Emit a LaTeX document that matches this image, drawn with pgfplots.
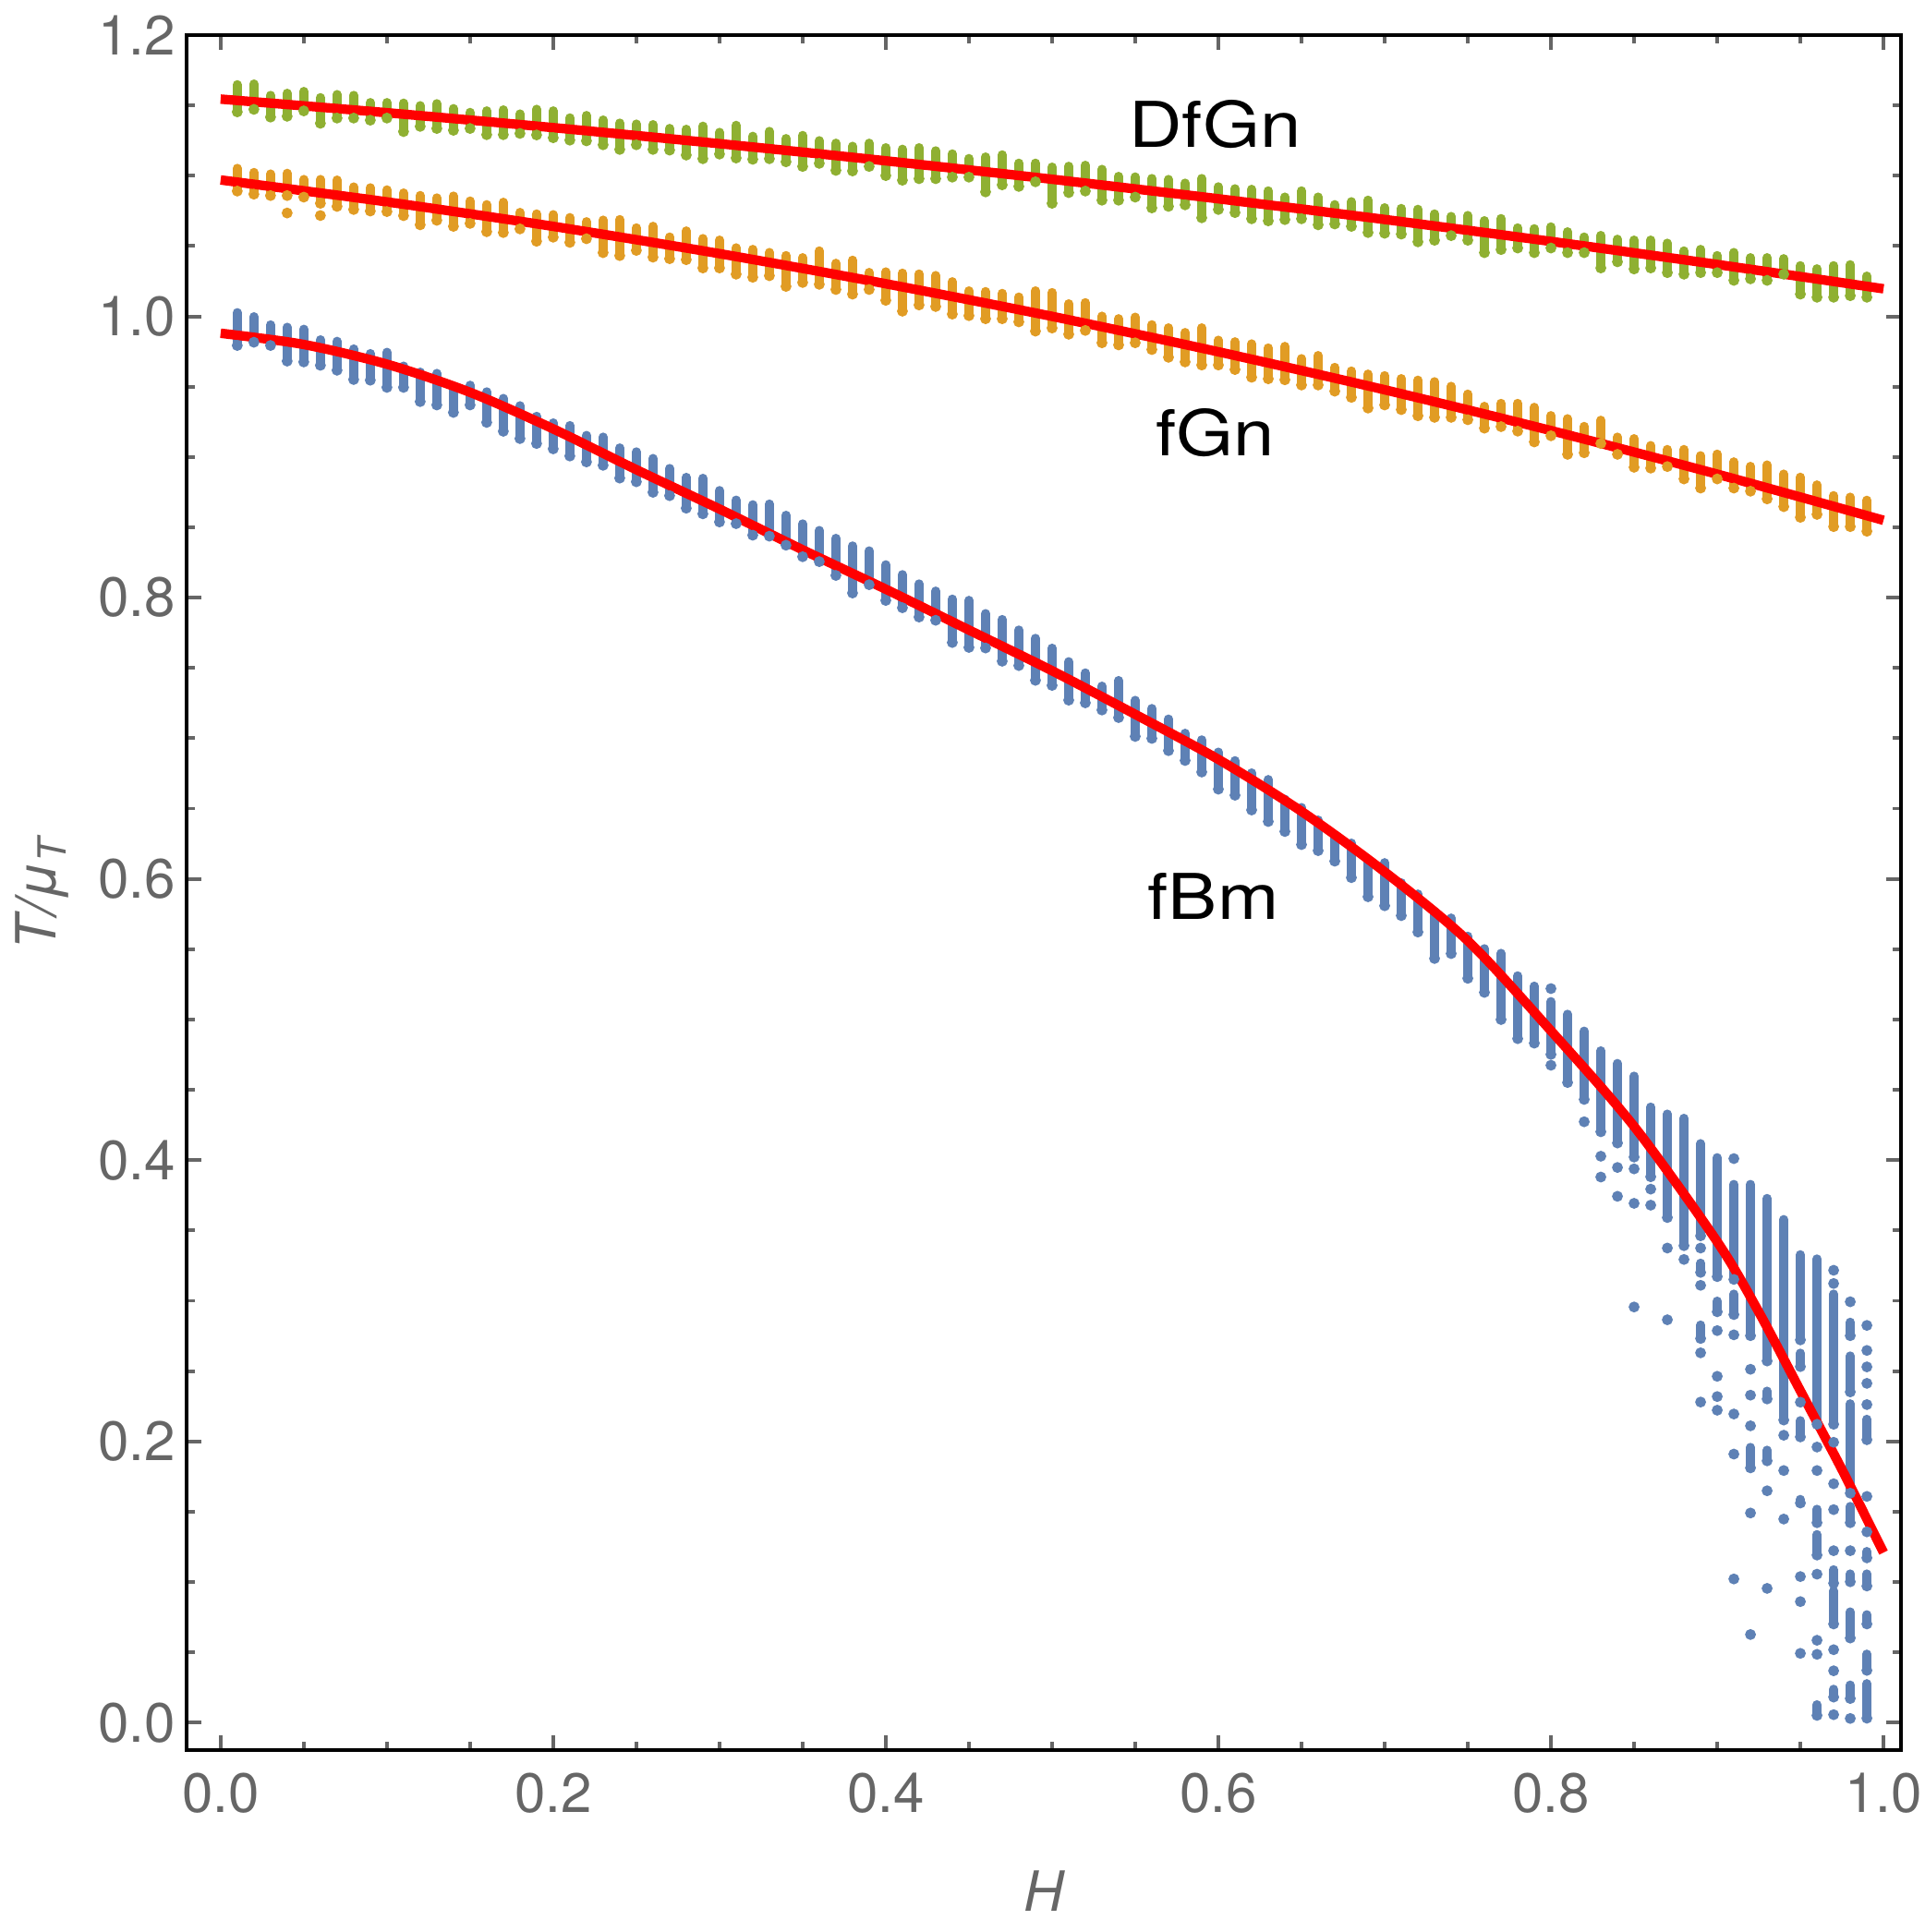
\documentclass[border=0pt]{standalone}
\usepackage{pgfplots}
\pgfplotsset{compat=1.18}
\usepackage{pgfplotstable}
\usepackage{graphicx}
\usepackage{fontspec}
\setmainfont{TeX Gyre Heros}

\definecolor{fbm}{rgb}{0.368417,0.506779,0.709798}
\definecolor{fgn}{rgb}{0.880722,0.611041,0.142051}
\definecolor{dfgn}{rgb}{0.560181,0.691569,0.194885}
\definecolor{tickgray}{gray}{0.4}

\pgfplotsset{
  colbars/.style={only marks, mark=*, mark size=1.0pt,
    mark options={draw=none, fill=#1}, color=#1, forget plot,
    error bars/.cd, y dir=plus, y explicit, error mark=none,
    error bar style={line width=2.0pt, line cap=round, draw=#1}},
  coldots/.style={only marks, mark=*, mark size=1.0pt,
    mark options={draw=none, fill=#1}, color=#1, forget plot},
}

% fBm: column extents (x, lower edge, upper edge)
\pgfplotstableread{
x lo hi
0.01 0.9761 1.0059
0.02 0.9784 1.0030
0.03 0.9761 0.9972
0.04 0.9650 0.9955
0.05 0.9644 0.9941
0.06 0.9620 0.9866
0.07 0.9585 0.9855
0.08 0.9519 0.9801
0.09 0.9514 0.9768
0.10 0.9463 0.9777
0.11 0.9463 0.9679
0.12 0.9362 0.9636
0.13 0.9338 0.9627
0.14 0.9285 0.9514
0.15 0.9338 0.9543
0.16 0.9214 0.9496
0.17 0.9151 0.9449
0.18 0.9099 0.9397
0.19 0.9064 0.9322
0.20 0.9026 0.9275
0.21 0.8975 0.9256
0.22 0.8933 0.9186
0.23 0.8909 0.9174
0.24 0.8818 0.9097
0.25 0.8792 0.9069
0.26 0.8717 0.9022
0.27 0.8693 0.8951
0.28 0.8604 0.8888
0.29 0.8564 0.8881
0.30 0.8506 0.8794
0.31 0.8494 0.8726
0.32 0.8412 0.8693
0.33 0.8405 0.8698
0.34 0.8341 0.8618
0.35 0.8259 0.8557
0.36 0.8224 0.8510
0.37 0.8126 0.8454
0.38 0.8001 0.8400
0.39 0.8060 0.8365
0.40 0.7948 0.8266
0.41 0.7896 0.8196
0.42 0.7830 0.8130
0.43 0.7807 0.8079
0.44 0.7649 0.8022
0.45 0.7614 0.8013
0.46 0.7610 0.7919
0.47 0.7516 0.7877
0.48 0.7485 0.7802
0.49 0.7380 0.7743
0.50 0.7344 0.7673
0.51 0.7239 0.7577
0.52 0.7220 0.7497
0.53 0.7169 0.7403
0.54 0.7115 0.7443
0.55 0.6981 0.7302
0.56 0.6967 0.7244
0.57 0.6880 0.7169
0.58 0.6810 0.7068
0.59 0.6728 0.7021
0.60 0.6606 0.6934
0.61 0.6563 0.6873
0.62 0.6458 0.6786
0.63 0.6376 0.6739
0.64 0.6305 0.6599
0.65 0.6212 0.6540
0.66 0.6169 0.6451
0.67 0.6094 0.6329
0.68 0.5977 0.6287
0.69 0.5841 0.6169
0.70 0.5777 0.6148
0.71 0.5707 0.6005
0.72 0.5590 0.5925
0.73 0.5402 0.5801
0.74 0.5437 0.5754
0.75 0.5261 0.5625
0.76 0.5161 0.5536
0.77 0.4968 0.5503
0.78 0.4832 0.5343
0.79 0.4800 0.5270
0.80 0.4720 0.5160
0.81 0.4520 0.5070
0.82 0.4400 0.4950
0.83 0.4170 0.4810
0.84 0.4090 0.4720
0.85 0.3990 0.4630
0.86 0.3850 0.4410
0.87 0.3560 0.4360
0.88 0.3360 0.4330
0.89 0.3430 0.4150
0.90 0.3140 0.4050
0.91 0.3120 0.3860
0.92 0.2720 0.3860
0.93 0.2540 0.3760
0.94 0.2120 0.3610
0.95 0.2690 0.3360
0.96 0.2090 0.3330
0.97 0.2090 0.3080
0.98 0.2320 0.2640
0.98 0.1600 0.2300
0.89 0.317 0.330
0.89 0.270 0.286
0.90 0.289 0.303
0.91 0.287 0.308
0.92 0.178 0.199
0.93 0.227 0.239
0.93 0.183 0.197
0.95 0.250 0.266
0.95 0.200 0.218
0.95 0.153 0.162
0.96 0.139 0.155
0.96 0.116 0.137
0.96 0.002 0.016
0.97 0.096 0.112
0.97 0.067 0.097
0.97 0.015 0.027
0.98 0.272 0.288
0.98 0.139 0.157
0.98 0.097 0.109
0.98 0.057 0.082
0.98 0.014 0.030
0.99 0.198 0.219
0.99 0.114 0.125
0.99 0.094 0.109
0.99 0.067 0.080
0.99 0.034 0.052
0.99 0.000 0.031
}\fbmbars

% fBm: isolated points (x, y)
\pgfplotstableread{
x y
0.80 0.522
0.80 0.4675
0.82 0.4273
0.83 0.4028
0.83 0.388
0.84 0.3948
0.84 0.3743
0.85 0.3938
0.85 0.3693
0.85 0.2956
0.86 0.3794
0.86 0.368
0.87 0.3375
0.87 0.2865
0.88 0.3294
0.89 0.3375
0.89 0.311
0.89 0.263
0.89 0.228
0.90 0.2788
0.90 0.2463
0.90 0.2319
0.90 0.2222
0.91 0.4011
0.91 0.2758
0.91 0.2195
0.91 0.191
0.91 0.1022
0.92 0.2513
0.92 0.2329
0.92 0.2111
0.92 0.1491
0.92 0.0627
0.93 0.1649
0.93 0.0955
0.94 0.2044
0.94 0.1793
0.94 0.1448
0.95 0.2279
0.95 0.1039
0.95 0.0861
0.95 0.0493
0.96 0.196
0.96 0.1793
0.96 0.1056
0.96 0.0586
0.96 0.0486
0.97 0.3217
0.97 0.3123
0.97 0.1994
0.97 0.1699
0.97 0.1515
0.97 0.1223
0.97 0.0519
0.97 0.0369
0.97 0.0057
0.98 0.2993
0.98 0.1223
0.98 0.003
0.99 0.2825
0.99 0.2647
0.99 0.253
0.99 0.2413
0.99 0.2262
0.99 0.1609
0.99 0.1357
}\fbmdots

% fGn: column extents
\pgfplotstableread{
x lo hi
0.01 1.0859 1.1085
0.02 1.0837 1.1056
0.03 1.0827 1.1045
0.04 1.0827 1.1050
0.05 1.0816 1.1006
0.06 1.0772 1.1006
0.07 1.0750 1.1002
0.08 1.0728 1.0953
0.09 1.0717 1.0947
0.10 1.0713 1.0932
0.11 1.0684 1.0910
0.12 1.0619 1.0892
0.13 1.0651 1.0875
0.14 1.0608 1.0888
0.15 1.0629 1.0853
0.16 1.0570 1.0827
0.17 1.0564 1.0844
0.18 1.0590 1.0772
0.19 1.0502 1.0761
0.20 1.0531 1.0756
0.21 1.0494 1.0735
0.22 1.0520 1.0706
0.23 1.0421 1.0717
0.24 1.0400 1.0721
0.25 1.0437 1.0662
0.26 1.0389 1.0673
0.27 1.0378 1.0597
0.28 1.0371 1.0640
0.29 1.0312 1.0586
0.30 1.0312 1.0575
0.31 1.0268 1.0520
0.32 1.0246 1.0509
0.33 1.0257 1.0487
0.34 1.0181 1.0465
0.35 1.0209 1.0450
0.36 1.0196 1.0498
0.37 1.0159 1.0410
0.38 1.0126 1.0432
0.39 1.0159 1.0345
0.40 1.0082 1.0349
0.41 1.0005 1.0340
0.42 1.0049 1.0334
0.43 1.0038 1.0323
0.44 0.9984 1.0279
0.45 0.9973 1.0214
0.46 0.9951 1.0209
0.47 0.9951 1.0196
0.48 0.9929 1.0170
0.49 0.9863 1.0214
0.50 0.9885 1.0202
0.51 0.9841 1.0122
0.52 0.9868 1.0130
0.53 0.9780 1.0034
0.54 0.9765 1.0016
0.55 0.9780 1.0027
0.56 0.9732 0.9973
0.57 0.9677 0.9951
0.58 0.9644 0.9918
0.59 0.9622 0.9951
0.60 0.9622 0.9863
0.61 0.9590 0.9852
0.62 0.9535 0.9837
0.63 0.9524 0.9808
0.64 0.9517 0.9819
0.65 0.9480 0.9732
0.66 0.9480 0.9754
0.67 0.9436 0.9670
0.68 0.9392 0.9644
0.69 0.9316 0.9622
0.70 0.9338 0.9611
0.71 0.9305 0.9590
0.72 0.9261 0.9579
0.73 0.9250 0.9568
0.74 0.9250 0.9535
0.75 0.9233 0.9480
0.76 0.9173 0.9393
0.77 0.9184 0.9414
0.78 0.9152 0.9414
0.79 0.9075 0.9386
0.80 0.9119 0.9327
0.81 0.8987 0.9305
0.82 0.8998 0.9250
0.83 0.9064 0.9294
0.84 0.8987 0.9174
0.85 0.8895 0.9163
0.86 0.8889 0.9114
0.87 0.8900 0.9086
0.88 0.8812 0.9086
0.89 0.8747 0.9042
0.90 0.8812 0.9053
0.91 0.8747 0.8998
0.92 0.8725 0.8966
0.93 0.8670 0.8976
0.94 0.8615 0.8911
0.95 0.8539 0.8889
0.96 0.8560 0.8834
0.97 0.8473 0.8758
0.98 0.8473 0.8747
0.99 0.8440 0.8725
}\fgnbars

\pgfplotstableread{
x y
0.04 1.0735
0.06 1.0717
}\fgndots

% DfGn: column extents
\pgfplotstableread{
x lo hi
0.01 1.1422 1.1680
0.02 1.1440 1.1685
0.03 1.1385 1.1604
0.04 1.1391 1.1619
0.05 1.1429 1.1632
0.06 1.1341 1.1588
0.07 1.1378 1.1610
0.08 1.1378 1.1604
0.09 1.1363 1.1553
0.10 1.1378 1.1553
0.11 1.1282 1.1549
0.12 1.1319 1.1531
0.13 1.1304 1.1545
0.14 1.1291 1.1510
0.15 1.1304 1.1483
0.16 1.1260 1.1494
0.17 1.1260 1.1501
0.18 1.1269 1.1472
0.19 1.1258 1.1505
0.20 1.1238 1.1494
0.21 1.1221 1.1444
0.22 1.1216 1.1461
0.23 1.1188 1.1429
0.24 1.1155 1.1407
0.25 1.1188 1.1400
0.26 1.1155 1.1396
0.27 1.1150 1.1369
0.28 1.1115 1.1363
0.29 1.1089 1.1385
0.30 1.1122 1.1341
0.31 1.1094 1.1391
0.32 1.1085 1.1313
0.33 1.1089 1.1348
0.34 1.1067 1.1297
0.35 1.1034 1.1319
0.36 1.1056 1.1282
0.37 1.1006 1.1264
0.38 1.1002 1.1242
0.39 1.1034 1.1264
0.40 1.0969 1.1232
0.41 1.0936 1.1221
0.42 1.0947 1.1232
0.43 1.0947 1.1210
0.44 1.0958 1.1188
0.45 1.0958 1.1155
0.46 1.0853 1.1166
0.47 1.0903 1.1181
0.48 1.0892 1.1122
0.49 1.0925 1.1122
0.50 1.0772 1.1094
0.51 1.0848 1.1100
0.52 1.0859 1.1107
0.53 1.0794 1.1078
0.54 1.0794 1.1028
0.55 1.0816 1.1024
0.56 1.0739 1.1013
0.57 1.0750 1.1006
0.58 1.0761 1.0980
0.59 1.0669 1.1013
0.60 1.0728 1.0954
0.61 1.0706 1.0940
0.62 1.0662 1.0936
0.63 1.0647 1.0925
0.64 1.0656 1.0881
0.65 1.0662 1.0925
0.66 1.0619 1.0881
0.67 1.0625 1.0827
0.68 1.0608 1.0848
0.69 1.0564 1.0859
0.70 1.0559 1.0805
0.71 1.0553 1.0800
0.72 1.0498 1.0794
0.73 1.0509 1.0761
0.74 1.0542 1.0743
0.75 1.0509 1.0750
0.76 1.0421 1.0713
0.77 1.0443 1.0728
0.78 1.0454 1.0662
0.79 1.0421 1.0656
0.80 1.0454 1.0669
0.81 1.0421 1.0634
0.82 1.0421 1.0597
0.83 1.0312 1.0608
0.84 1.0356 1.0581
0.85 1.0305 1.0575
0.86 1.0312 1.0575
0.87 1.0279 1.0553
0.88 1.0268 1.0498
0.89 1.0279 1.0509
0.90 1.0279 1.0465
0.91 1.0224 1.0487
0.92 1.0235 1.0450
0.93 1.0224 1.0450
0.94 1.0268 1.0443
0.95 1.0126 1.0393
0.96 1.0104 1.0371
0.97 1.0104 1.0393
0.98 1.0115 1.0400
0.99 1.0104 1.0319
}\dfgnbars

\begin{document}
\begin{tikzpicture}
\begin{axis}[
  at={(0,0)}, anchor=south west,
  scale only axis, width=13.363cm, height=13.37cm,
  xmin=-0.0205, xmax=1.0105, ymin=-0.0195, ymax=1.2,
  xtick={0,0.2,0.4,0.6,0.8,1}, ytick={0,0.2,0.4,0.6,0.8,1,1.2},
  minor tick num=3,
  tick align=inside,
  major tick length=3.2pt, minor tick length=1.8pt,
  tick style={color=tickgray, line width=0.8pt},
  axis line style={black, line width=1pt},
  /pgf/number format/assume math mode=true,
  /pgf/number format/.cd, fixed, fixed zerofill, precision=1, /pgfplots/.cd,
  ticklabel style={font=\fontsize{12.3}{14}\selectfont, text=tickgray},
  xticklabel style={yshift=-1.6pt},
  yticklabel style={xshift=1pt},
  xlabel={\itshape H},
  ylabel={\itshape T/μ\textsubscript{\itshape T}},
  every axis x label/.style={at={(axis description cs:0.5,-0.094)}, anchor=base,
    font=\fontsize{12.3}{14}\selectfont, text=tickgray},
  every axis y label/.style={at={(axis description cs:-0.076,0.5)}, anchor=base, rotate=90,
    font=\fontsize{12.3}{14}\selectfont, text=tickgray},
]
% fBm
\addplot[colbars=fbm] table[x=x, y expr=\thisrow{lo}+0.0032,
   y error plus expr={max(\thisrow{hi}-\thisrow{lo}-0.0064,0)}] {\fbmbars};
\addplot[coldots=fbm] table[x=x, y=y] {\fbmdots};
% fGn
\addplot[colbars=fgn] table[x=x, y expr=\thisrow{lo}+0.0032,
   y error plus expr={max(\thisrow{hi}-\thisrow{lo}-0.0064,0)}] {\fgnbars};
\addplot[coldots=fgn] table[x=x, y=y] {\fgndots};
% DfGn
\addplot[colbars=dfgn] table[x=x, y expr=\thisrow{lo}+0.0032,
   y error plus expr={max(\thisrow{hi}-\thisrow{lo}-0.0064,0)}] {\dfgnbars};

% fitted curves
\addplot[color=red, line width=2.1pt, smooth] coordinates {
(0,1.1545) (0.1,1.1448) (0.2,1.1342) (0.3,1.1228) (0.4,1.1106) (0.5,1.0975)
(0.6,1.0836) (0.7,1.0689) (0.8,1.0533) (0.9,1.0369) (1.0,1.0196)};
\addplot[color=red, line width=2.1pt, smooth] coordinates {
(0,1.0970) (0.1,1.0814) (0.2,1.0640) (0.3,1.0446) (0.4,1.0232) (0.5,1.0000)
(0.6,0.9748) (0.7,0.9478) (0.8,0.9188) (0.9,0.8878) (1.0,0.8550)};
\addplot[color=red, line width=2.1pt, smooth] coordinates {
(0,0.988) (0.05,0.980) (0.10,0.966) (0.15,0.946) (0.20,0.920) (0.25,0.891)
(0.30,0.863) (0.35,0.834) (0.40,0.806) (0.45,0.777) (0.50,0.748) (0.55,0.717)
(0.60,0.685) (0.65,0.648) (0.70,0.605) (0.75,0.556) (0.80,0.492) (0.85,0.424)
(0.90,0.342) (0.925,0.292) (0.95,0.236) (0.975,0.180) (1.0,0.121)};

\node[anchor=base, font=\fontsize{14}{16}\selectfont] at (axis cs:0.598,1.120) {\scalebox{1.165}[1]{DfGn}};
\node[anchor=base, font=\fontsize{14}{16}\selectfont] at (axis cs:0.598,0.901) {\scalebox{1.165}[1]{fGn}};
\node[anchor=base, font=\fontsize{14}{16}\selectfont] at (axis cs:0.597,0.571) {\scalebox{1.165}[1]{fBm}};
\end{axis}
\pgfresetboundingbox
\path (-1.454cm,-1.418cm) rectangle (13.544cm,13.644cm);
\end{tikzpicture}
\end{document}
